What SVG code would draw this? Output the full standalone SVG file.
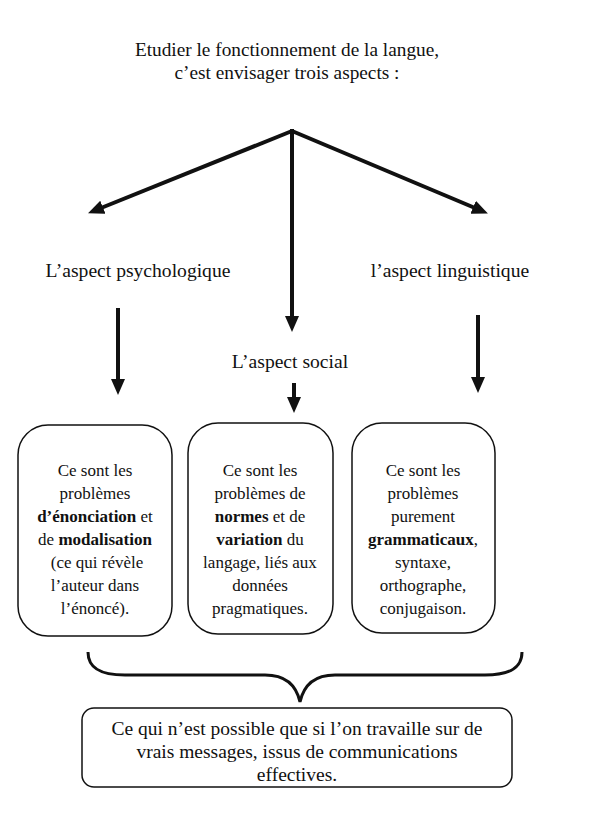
<svg xmlns="http://www.w3.org/2000/svg" width="602" height="828" viewBox="0 0 602 828">
<style>
text{font-family:"Liberation Serif","Times New Roman",serif;fill:#111;text-anchor:middle}
.t{font-size:19.3px}
.l{font-size:19.6px}
.b{font-size:17px}
.f{font-size:19.5px}
.bd{font-weight:bold}
.box{fill:none;stroke:#111;stroke-width:1.5}
.arr{stroke:#111;stroke-width:4;fill:none}
.brace{stroke:#111;stroke-width:3;fill:none}
</style>
<defs>
<marker id="ah" markerUnits="userSpaceOnUse" markerWidth="16" markerHeight="14" refX="2" refY="7" orient="auto">
<path d="M0,0 L16,7 L0,14 z" fill="#111"/>
</marker>
</defs>
<rect width="602" height="828" fill="#fff"/>
<g id="title">
<text class="t" x="287" y="56">Etudier le fonctionnement de la langue,</text>
<text class="t" x="287" y="79">c’est envisager trois aspects :</text>
</g>
<g id="connectors">
<line class="arr" x1="292" y1="131" x2="101" y2="208" marker-end="url(#ah)"/>
<line class="arr" x1="292" y1="131" x2="475" y2="208" marker-end="url(#ah)"/>
<line class="arr" x1="292" y1="129" x2="292" y2="318" marker-end="url(#ah)"/>
<line class="arr" x1="118" y1="308" x2="118" y2="381" marker-end="url(#ah)"/>
<line class="arr" x1="478" y1="315" x2="478" y2="379" marker-end="url(#ah)"/>
<line class="arr" x1="294" y1="383" x2="294" y2="399" marker-end="url(#ah)"/>
<path class="brace" d="M88,652 C88,668 100,675 125,675 L265,675 C285,675 296,684 300,702 C304,684 315,675 335,675 L485,675 C510,675 522,668 522,652"/>
</g>
<g id="psy">
<text class="l" x="138" y="277">L’aspect psychologique</text>
</g>
<g id="ling">
<text class="l" x="450" y="277">l’aspect linguistique</text>
</g>
<g id="social">
<text class="l" x="290" y="368">L’aspect social</text>
</g>
<g id="box1">
<rect class="box" x="18" y="425" width="154" height="211" rx="30"/>
<text class="b" x="95" y="476">Ce sont les</text>
<text class="b" x="95" y="499">problèmes</text>
<text class="b" x="95" y="522"><tspan class="bd">d’énonciation</tspan> et</text>
<text class="b" x="95" y="545">de <tspan class="bd">modalisation</tspan></text>
<text class="b" x="97" y="568">(ce qui révèle</text>
<text class="b" x="95" y="591">l’auteur dans</text>
<text class="b" x="95" y="614">l’énoncé).</text>
</g>
<g id="box2">
<rect class="box" x="188" y="423" width="145" height="211" rx="30"/>
<text class="b" x="260" y="476">Ce sont les</text>
<text class="b" x="260" y="499">problèmes de</text>
<text class="b" x="260" y="522"><tspan class="bd">normes</tspan> et de</text>
<text class="b" x="260" y="545"><tspan class="bd">variation</tspan> du</text>
<text class="b" x="260" y="568">langage, liés aux</text>
<text class="b" x="260" y="591">données</text>
<text class="b" x="260" y="614">pragmatiques.</text>
</g>
<g id="box3">
<rect class="box" x="352" y="423" width="143" height="210" rx="30"/>
<text class="b" x="423" y="476">Ce sont les</text>
<text class="b" x="423" y="499">problèmes</text>
<text class="b" x="423" y="522">purement</text>
<text class="b" x="423" y="545"><tspan class="bd">grammaticaux</tspan>,</text>
<text class="b" x="423" y="568">syntaxe,</text>
<text class="b" x="423" y="591">orthographe,</text>
<text class="b" x="423" y="614">conjugaison.</text>
</g>
<g id="conclusion">
<rect class="box" x="82" y="708" width="430" height="79" rx="12"/>
<text class="f" x="297" y="735">Ce qui n’est possible que si l’on travaille sur de</text>
<text class="f" x="297" y="758">vrais messages, issus de communications</text>
<text class="f" x="297" y="781">effectives.</text>
</g>
</svg>
